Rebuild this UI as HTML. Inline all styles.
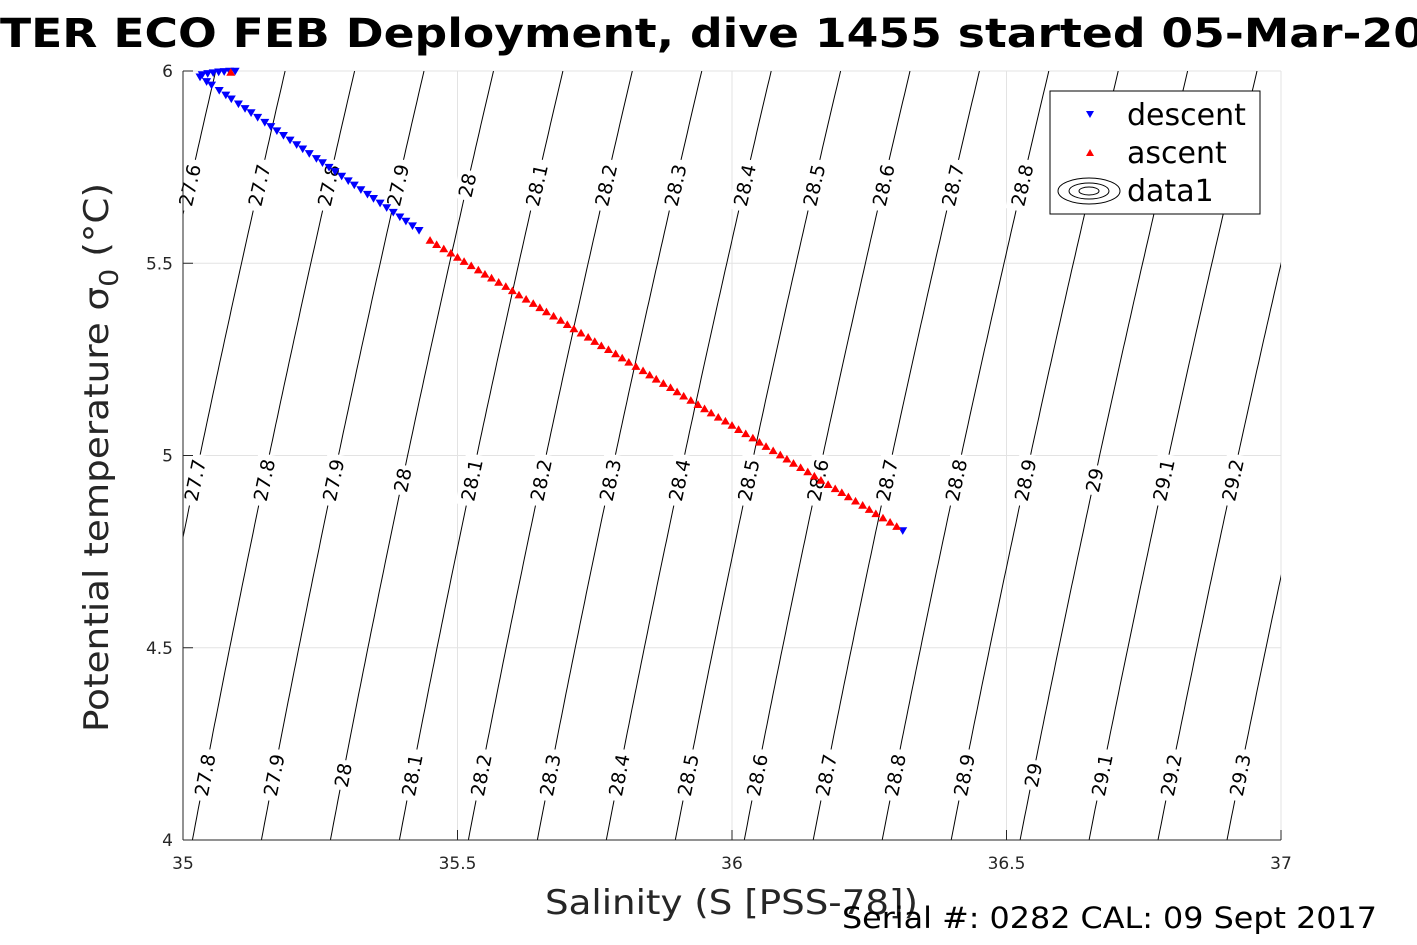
<!DOCTYPE html>
<html><head><meta charset="utf-8"><style>
html,body{margin:0;padding:0;background:#fff;}
svg{display:block;font-family:"DejaVu Sans","Liberation Sans",sans-serif;}
</style></head><body>
<svg id="chart" width="1417" height="945" viewBox="0 0 1417 945">
<g id="grid"></g>
<g id="contours"></g>
<g id="clabels"></g>
<g id="axes"></g>
<g id="marks"></g>
<text x="0" y="47" font-size="40" font-weight="bold" textLength="1425" lengthAdjust="spacingAndGlyphs">TER ECO FEB Deployment, dive 1455 started 05-Mar-20</text>
<text x="545" y="914" font-size="34" fill="#262626" textLength="373" lengthAdjust="spacingAndGlyphs">Salinity (S [PSS-78])</text>
<text transform="translate(108,732) rotate(-90)" font-size="34" fill="#262626" textLength="549" lengthAdjust="spacingAndGlyphs">Potential temperature σ<tspan font-size="26" dy="10">0</tspan><tspan dy="-10"> (°C)</tspan></text>
<text x="842" y="928" font-size="29" textLength="535" lengthAdjust="spacingAndGlyphs">Serial #: 0282  CAL: 09 Sept 2017</text>
<g>
<rect x="1050" y="91" width="210" height="123" fill="#fff" stroke="#000" stroke-width="1"/>
<path d="M1086,111 L1094,111 L1090,118 Z" fill="#00f"/>
<text x="1127" y="125" font-size="30">descent</text>
<path d="M1086,156 L1094,156 L1090,149 Z" fill="#f00"/>
<text x="1127" y="163" font-size="30">ascent</text>
<g fill="none" stroke="#000" stroke-width="1">
<ellipse cx="1089" cy="191" rx="31" ry="13"/><ellipse cx="1089" cy="191" rx="20" ry="8"/><ellipse cx="1089" cy="191" rx="10" ry="4"/></g>
<text x="1127" y="201" font-size="30">data1</text>
</g>
</svg>
<script>
const xTicks=[35,35.5,36,36.5,37];
const xTickLabels=["35","35.5","36","36.5","37"];
const yTicks=[4,4.5,5,5.5,6];
const yTickLabels=["4","4.5","5","5.5","6"];
const levels=[27.5,27.6,27.7,27.8,27.9,28,28.1,28.2,28.3,28.4,28.5,28.6,28.7,28.8,28.9,29,29.1,29.2,29.3,29.4];
const labelRowsT=[5.703,4.936,4.169];
const descentS=[35.035,35.045,35.055,35.065,35.075,35.085,35.095,35.031,35.043,35.052,35.066,35.078,35.088,35.101,35.113,35.124,35.136,35.149,35.160,35.171,35.183,35.195,35.207,35.218,35.230,35.243,35.254,35.266,35.277,35.289,35.301,35.312,35.324,35.336,35.347,35.359,35.371,35.383,35.395,35.406,35.418,35.430,36.311];
const descentT=[5.990,5.993,5.995,5.997,5.998,5.999,5.999,5.984,5.972,5.963,5.949,5.937,5.927,5.914,5.902,5.891,5.879,5.866,5.855,5.844,5.832,5.820,5.808,5.797,5.785,5.772,5.761,5.749,5.738,5.726,5.714,5.703,5.691,5.679,5.668,5.656,5.644,5.632,5.620,5.609,5.597,5.585,4.804];
const ascentS=[35.087,35.450,35.462,35.475,35.488,35.500,35.512,35.525,35.538,35.550,35.562,35.575,35.588,35.600,35.612,35.625,35.638,35.650,35.662,35.675,35.688,35.700,35.712,35.725,35.738,35.750,35.762,35.775,35.788,35.800,35.812,35.825,35.838,35.850,35.862,35.875,35.888,35.900,35.912,35.925,35.938,35.950,35.962,35.975,35.988,36.000,36.012,36.025,36.038,36.050,36.062,36.075,36.088,36.100,36.112,36.125,36.138,36.150,36.162,36.175,36.188,36.200,36.212,36.225,36.238,36.250,36.262,36.275,36.288,36.300];
const ascentT=[5.997,5.560,5.549,5.538,5.527,5.516,5.505,5.494,5.483,5.472,5.462,5.451,5.440,5.429,5.418,5.407,5.396,5.385,5.374,5.363,5.352,5.341,5.330,5.319,5.308,5.297,5.286,5.276,5.265,5.254,5.243,5.232,5.221,5.210,5.199,5.188,5.177,5.166,5.155,5.144,5.133,5.122,5.111,5.100,5.090,5.079,5.068,5.057,5.046,5.035,5.024,5.013,5.002,4.991,4.980,4.969,4.958,4.947,4.936,4.925,4.914,4.904,4.893,4.882,4.871,4.860,4.849,4.838,4.827,4.816];

const NS="http://www.w3.org/2000/svg";
const X0=183,X1=1281,Y0=840,Y1=71;
const sx=s=>X0+(s-35)/2*(X1-X0);
const sy=t=>Y0-(t-4)/2*(Y0-Y1);
function mk(tag,attrs,parent){const e=document.createElementNS(NS,tag);for(const k in attrs)e.setAttribute(k,attrs[k]);parent.appendChild(e);return e;}
function sigma0(S,T){
 const rw=999.842594+6.793952e-2*T-9.095290e-3*T*T+1.001685e-4*T**3-1.120083e-6*T**4+6.536332e-9*T**5;
 const A=8.24493e-1-4.0899e-3*T+7.6438e-5*T*T-8.2467e-7*T**3+5.3875e-9*T**4;
 const B=-5.72466e-3+1.0227e-4*T-1.6546e-6*T*T;
 return rw+A*S+B*Math.pow(S,1.5)+4.8314e-4*S*S-1000;
}
function solveS(level,T){let lo=33,hi=39;for(let i=0;i<50;i++){const m=(lo+hi)/2;if(sigma0(m,T)<level)lo=m;else hi=m;}return (lo+hi)/2;}

const grid=document.getElementById('grid');
xTicks.forEach(v=>{if(v>35&&v<37){const l=mk('line',{x1:sx(v),x2:sx(v),y1:Y1,y2:Y0,stroke:'#e3e3e3','stroke-width':1},grid);}});
yTicks.forEach(v=>{if(v>4&&v<6){const l=mk('line',{x1:X0,x2:X1,y1:sy(v),y2:sy(v),stroke:'#e3e3e3','stroke-width':1},grid);}});
mk('line',{x1:X0,x2:X1,y1:Y1,y2:Y1,stroke:'#e3e3e3'},grid);
mk('line',{x1:X1,x2:X1,y1:Y1,y2:Y0,stroke:'#e3e3e3'},grid);

const cg=document.getElementById('contours');
const clip=mk('clipPath',{id:'pc'},mk('defs',{},document.getElementById('chart')));
mk('rect',{x:X0,y:Y1,width:X1-X0,height:Y0-Y1},clip);
cg.setAttribute('clip-path','url(#pc)');
levels.forEach(lv=>{
 let d='';
 for(let i=0;i<=100;i++){const T=4+i*0.02;const S=solveS(lv,T);d+=(i?'L':'M')+sx(S).toFixed(1)+','+sy(T).toFixed(1);}
 const p=mk('path',{d:d,fill:'none',stroke:'#000','stroke-width':1},cg);
 
 
});
const lg=document.getElementById('clabels');
labelRowsT.forEach(T=>{
 levels.forEach(lv=>{
  const S=solveS(lv,T);const x=sx(S),y=sy(T);
  if(x<X0+4||x>X1-4)return;
  const S2=solveS(lv,T+0.1);const dx=sx(S2)-x,dy=sy(T+0.1)-y;
  const ang=Math.atan2(dy,dx)*180/Math.PI;
  const txt=String(lv);const w=txt.length*11+8;
  const g=mk('g',{transform:`translate(${x.toFixed(1)},${y.toFixed(1)}) rotate(${ang.toFixed(1)})`},lg);
  
  
  mk('rect',{x:-w/2,y:-11,width:w,height:22,fill:'#fff'},g);
  const t=mk('text',{x:0,y:7,'text-anchor':'middle','font-size':19},g);t.textContent=txt;
 });
});
const ax=document.getElementById('axes');
mk('line',{x1:X0,x2:X0,y1:Y1,y2:Y0,stroke:'#262626','stroke-width':1},ax);
mk('line',{x1:X0,x2:X1,y1:Y0,y2:Y0,stroke:'#262626','stroke-width':1},ax);
xTicks.forEach((v,i)=>{mk('line',{x1:sx(v),x2:sx(v),y1:Y0,y2:Y0-10,stroke:'#262626'},ax);
 const t=mk('text',{x:sx(v),y:Y0+29,'text-anchor':'middle','font-size':17,fill:'#262626'},ax);t.textContent=xTickLabels[i];
 });
yTicks.forEach((v,i)=>{mk('line',{x1:X0,x2:X0+10,y1:sy(v),y2:sy(v),stroke:'#262626'},ax);
 const t=mk('text',{x:X0-10,y:sy(v)+6,'text-anchor':'end','font-size':17,fill:'#262626'},ax);t.textContent=yTickLabels[i];
 });

const mg=document.getElementById('marks');
const r=4.5;
descentS.forEach((s,i)=>{const x=sx(s),y=sy(descentT[i]);
 const p=mk('path',{d:`M${x-r},${y-r*0.8}L${x+r},${y-r*0.8}L${x},${y+r*0.9}Z`,fill:'#00f'},mg);
 });
ascentS.forEach((s,i)=>{const x=sx(s),y=sy(ascentT[i]);
 const p=mk('path',{d:`M${x-r},${y+r*0.8}L${x+r},${y+r*0.8}L${x},${y-r*0.9}Z`,fill:'#f00'},mg);
 });
</script>
</body></html>
